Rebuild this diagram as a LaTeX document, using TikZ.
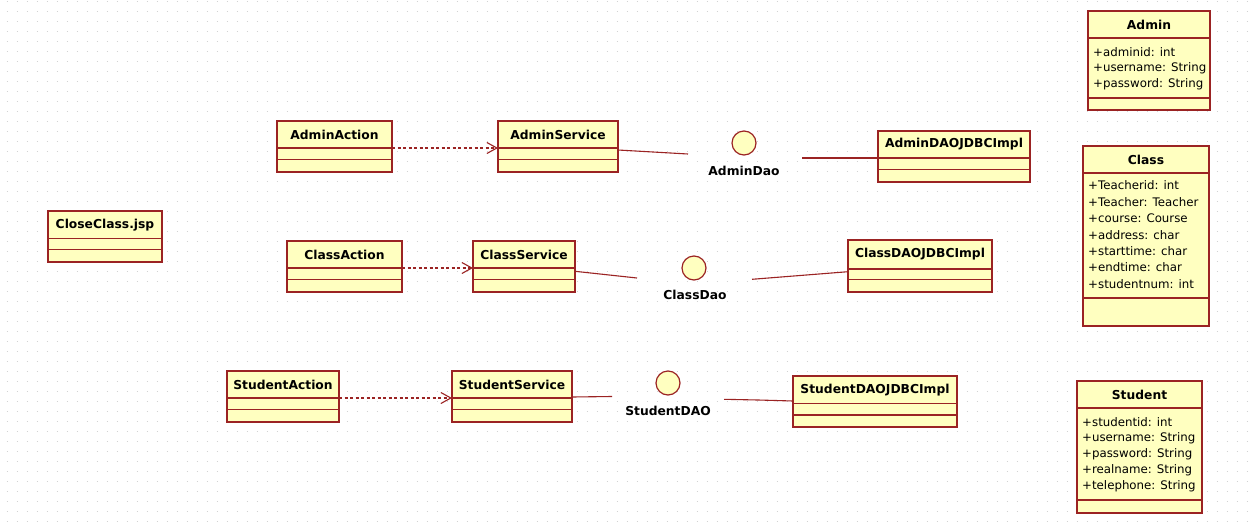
\documentclass[tikz,border=0pt]{standalone}
\usepackage{fontspec}
\setmainfont{DejaVu Sans}
\usetikzlibrary{arrows.meta,calc}
\definecolor{umlred}{RGB}{155,35,35}
\definecolor{umlfill}{RGB}{255,255,192}
\definecolor{griddot}{RGB}{210,210,210}
\tikzset{
  umlbox/.style={rectangle, draw=umlred, fill=umlfill, line width=1.3pt, inner sep=0pt, outer sep=0pt},
  sepline/.style={draw=umlred, line width=1.3pt},
  umltitle/.style={font=\fontsize{12.3}{14}\selectfont\bfseries, inner sep=0pt},
  attr/.style={font=\fontsize{11.8}{14}\selectfont, inner sep=0pt, anchor=west},
  iface/.style={circle, draw=umlred, fill=umlfill, line width=1.2pt, minimum size=24pt, inner sep=0pt},
  ifacelabel/.style={font=\fontsize{12.3}{14}\selectfont\bfseries, inner sep=0pt},
  dep/.style={draw=umlred, line width=1.1pt, dash pattern=on 3pt off 2.5pt,
    -{Straight Barb[length=10pt,width=11pt,line width=1.1pt]}},
  assoc/.style={draw=umlred, line width=1.1pt},
  gridrow/.style={draw=griddot, line width=1pt, dash pattern=on 1pt off 9pt},
}
% name, left, top, right, bottom, sep1, sep2, title
\newcommand\umlclass[8]{%
  \node[umlbox, anchor=north west, minimum width=#4-#2, minimum height=#5-#3] (#1) at (#2,#3) {};
  \draw[sepline] (#2,#6) coordinate (#1-s1w) -- (#4,#6) coordinate (#1-s1e);
  \draw[sepline] (#2,#7) coordinate (#1-s2w) -- (#4,#7) coordinate (#1-s2e);
  \node[umltitle] (#1-title) at ({(#2+#4)/2},{(#3+#6)/2}) {#8};
}
\begin{document}
\begin{tikzpicture}[x=1pt,y=-1pt]
\useasboundingbox (0,0) rectangle (1252,522);
\fill[white] (0,0) rectangle (1252,522);
% dotted background grid
\foreach \r in {0,...,52} {
  \draw[gridrow] (6.5,{1+10*\r}) -- (1252,{1+10*\r});
}

% domain classes
\umlclass{Admin}{1088}{11}{1210}{110}{38}{98}{Admin}
\node[attr] (Admin-a1) at (1093,51.7) {+adminid: int};
\node[attr] (Admin-a2) at (1093,68.3) {+username: String};
\node[attr] (Admin-a3) at (1093,84.5) {+password: String};

\umlclass{Class}{1083}{146}{1209}{326}{173}{298}{Class}
\node[attr] (Class-a1) at (1088,185.5) {+Teacherid: int};
\node[attr] (Class-a2) at (1088,201.9) {+Teacher: Teacher};
\node[attr] (Class-a3) at (1088,218.3) {+course: Course};
\node[attr] (Class-a4) at (1088,234.7) {+address: char};
\node[attr] (Class-a5) at (1088,251.1) {+starttime: char};
\node[attr] (Class-a6) at (1088,267.5) {+endtime: char};
\node[attr] (Class-a7) at (1088,283.9) {+studentnum: int};

\umlclass{Student}{1077}{381}{1202}{513}{408}{500}{Student}
\node[attr] (Student-a1) at (1082,421.7) {+studentid: int};
\node[attr] (Student-a2) at (1082,437.9) {+username: String};
\node[attr] (Student-a3) at (1082,454.1) {+password: String};
\node[attr] (Student-a4) at (1082,470.3) {+realname: String};
\node[attr] (Student-a5) at (1082,486.5) {+telephone: String};

% page
\umlclass{CloseClass}{48}{211}{162}{262}{238.5}{249.5}{CloseClass.jsp}

% admin row
\umlclass{AdminAction}{277}{121}{392}{172}{148}{159.5}{AdminAction}
\umlclass{AdminService}{498}{121}{618}{172}{148}{159.5}{AdminService}
\umlclass{AdminDAOJDBCImpl}{878}{131}{1030}{182}{158}{169.5}{AdminDAOJDBCImpl}
\node[iface] (AdminDao) at (744,143) {};
\node[ifacelabel] (AdminDao-label) at (744,171) {AdminDao};

% class row
\umlclass{ClassAction}{287}{241}{402}{292}{268}{279.5}{ClassAction}
\umlclass{ClassService}{473}{241}{575}{292}{268}{279.5}{ClassService}
\umlclass{ClassDAOJDBCImpl}{848}{240}{992}{292}{269}{279.5}{ClassDAOJDBCImpl}
\node[iface] (ClassDao) at (694,268) {};
\node[ifacelabel] (ClassDao-label) at (695,295) {ClassDao};

% student row
\umlclass{StudentAction}{227}{371}{339}{422}{398}{409.5}{StudentAction}
\umlclass{StudentService}{452}{371}{572}{422}{398}{409.5}{StudentService}
\umlclass{StudentDAOJDBCImpl}{793}{376}{957}{427}{403.5}{415}{StudentDAOJDBCImpl}
\node[iface] (StudentDAO) at (668,383) {};
\node[ifacelabel] (StudentDAO-label) at (668,411) {StudentDAO};

% free ends of the interface connectors
\coordinate (AdminDao-in) at (688,154);
\coordinate (AdminDao-out) at (802,158);
\coordinate (ClassDao-in) at (637,278);
\coordinate (ClassDao-out) at (752,279.3);
\coordinate (StudentDAO-in) at (612,396.5);
\coordinate (StudentDAO-out) at (724,399.3);
\coordinate (StudentDAO-bend) at (758,400);

% dependencies
\draw[dep] (AdminAction-s1e) -- (AdminService-s1w);
\draw[dep] (ClassAction-s1e) -- (ClassService-s1w);
\draw[dep] (StudentAction-s1e) -- (StudentService-s1w);

% associations with interfaces
\draw[assoc] ([yshift=-29pt]AdminService.north east) -- (AdminDao-in);
\draw[assoc] (AdminDao-out) -- (AdminDAOJDBCImpl-s1w);
\draw[assoc] ([yshift=-30.3pt]ClassService.north east) -- (ClassDao-in);
\draw[assoc] (ClassDao-out) -- ([yshift=-31.7pt]ClassDAOJDBCImpl.north west);
\draw[assoc] ([yshift=-26pt]StudentService.north east) -- (StudentDAO-in);
\draw[assoc] (StudentDAO-out) -- (StudentDAO-bend) -- ([yshift=-25pt]StudentDAOJDBCImpl.north west);
\end{tikzpicture}
\end{document}
